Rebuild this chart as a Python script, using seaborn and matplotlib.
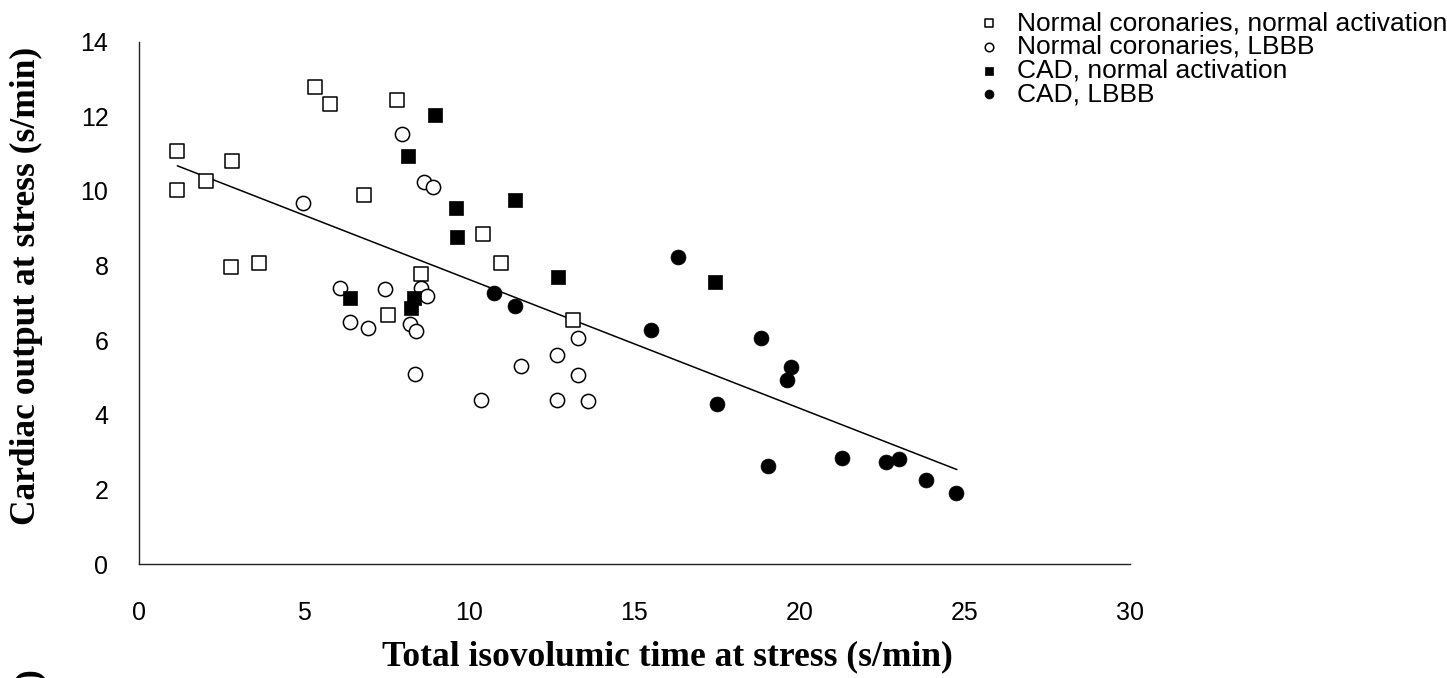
import matplotlib
matplotlib.use("Agg")
import matplotlib.pyplot as plt
import seaborn as sns
import numpy as np

# ---- data ----
nn_x = [1.16, 1.16, 2.03, 2.83, 5.32, 5.77, 7.80, 6.82, 2.78, 3.63, 8.53, 7.53, 10.41, 10.95, 13.15]
nn_y = [11.07, 10.02, 10.27, 10.80, 12.77, 12.33, 12.43, 9.89, 7.97, 8.06, 7.76, 6.67, 8.85, 8.06, 6.54]
nl_x = [7.95, 8.64, 8.89, 4.96, 6.09, 7.46, 8.53, 8.71, 6.38, 6.93, 8.20, 8.40, 8.36, 13.29, 12.65, 11.57, 13.29, 10.35, 12.66, 13.59]
nl_y = [11.53, 10.24, 10.09, 9.67, 7.40, 7.36, 7.39, 7.17, 6.49, 6.33, 6.44, 6.25, 5.10, 6.06, 5.60, 5.31, 5.06, 4.39, 4.39, 4.36]
cn_x = [8.95, 8.15, 9.61, 9.63, 11.38, 12.68, 6.38, 8.31, 8.23, 17.45]
cn_y = [12.03, 10.94, 9.53, 8.75, 9.75, 7.68, 7.13, 7.12, 6.87, 7.56]
cl_x = [10.76, 11.38, 16.31, 15.51, 18.84, 19.75, 19.63, 17.50, 19.03, 21.27, 22.60, 23.02, 23.83, 24.73]
cl_y = [7.25, 6.91, 8.23, 6.28, 6.06, 5.27, 4.93, 4.30, 2.63, 2.85, 2.74, 2.81, 2.24, 1.89]
trend_x = [1.16, 24.76]
trend_y = [10.67, 2.53]

labels = ["Normal coronaries, normal activation", "Normal coronaries, LBBB",
          "CAD, normal activation", "CAD, LBBB"]
x_ticks = [0, 5, 10, 15, 20, 25, 30]
y_ticks = [0, 2, 4, 6, 8, 10, 12, 14]
x_label = "Total isovolumic time at stress (s/min)"
y_label = "Cardiac output at stress (s/min)"

sns.set_theme(style="white")
plt.rcParams["font.family"] = ["Liberation Sans", "DejaVu Sans"]

W, H = 1447, 678
fig = plt.figure(figsize=(W / 100, H / 100), dpi=100)
ax = fig.add_axes([139 / W, 1 - 564 / H, (1130 - 139) / W, (564 - 41.5) / H])

sns.lineplot(x=trend_x, y=trend_y, color="black", linewidth=1.1, ax=ax, zorder=2, legend=False)

ms = 105
sns.scatterplot(x=nn_x, y=nn_y, marker="s", s=ms, color="white", edgecolor="black",
                linewidth=1.1, label=labels[0], ax=ax, zorder=3)
sns.scatterplot(x=nl_x, y=nl_y, marker="o", s=ms, color="white", edgecolor="black",
                linewidth=1.1, label=labels[1], ax=ax, zorder=3)
sns.scatterplot(x=cn_x, y=cn_y, marker="s", s=ms + 10, color="black", edgecolor="black",
                linewidth=0.5, label=labels[2], ax=ax, zorder=3)
sns.scatterplot(x=cl_x, y=cl_y, marker="o", s=ms + 10, color="black", edgecolor="black",
                linewidth=0.5, label=labels[3], ax=ax, zorder=3)

ax.set_xlim(0, 30)
ax.set_ylim(0, 14)
ax.set_xticks(x_ticks)
ax.set_yticks(y_ticks)
ax.set_xticklabels([str(v) for v in x_ticks])
ax.set_yticklabels([str(v) for v in y_ticks])
for s in ["top", "right"]:
    ax.spines[s].set_visible(False)
for s in ["left", "bottom"]:
    ax.spines[s].set_color("#222222")
    ax.spines[s].set_linewidth(1.0)
ax.tick_params(axis="both", which="major", direction="out", length=7, width=1.0,
               color="#222222", labelsize=18, labelcolor="black")
ax.tick_params(axis="x", pad=20)
ax.tick_params(axis="y", pad=14, length=8)
ax.grid(False)

ax.set_xlabel(x_label, fontsize=25.5, fontweight="bold", family="Liberation Serif",
              color="black")
ax.xaxis.set_label_coords(0.533, -0.1455)
ax.xaxis.label.set_va("top")
ax.set_ylabel(y_label, fontsize=25.5, fontweight="bold", family="Liberation Serif",
              color="black")
ax.yaxis.set_label_coords(-0.0969, 0.532)

# clipped fragment of a neighbouring label at the bottom-left corner
fig.text(30 / W, 1 - 668 / H, ")", rotation=90, ha="center", va="top",
         fontsize=25.5, fontweight="bold", family="Liberation Serif", color="black")

fs = 19
leg = ax.legend(loc="upper left", bbox_to_anchor=(975.6 / W, 1 - 11 / H),
                bbox_transform=fig.transFigure, frameon=False, fontsize=fs,
                markerscale=0.6, handlelength=1.0, handletextpad=0.57,
                labelspacing=-0.01, borderpad=0, borderaxespad=0)
for t in leg.get_texts():
    t.set_color("black")

fig.savefig("out.png", dpi=100, facecolor="white")
